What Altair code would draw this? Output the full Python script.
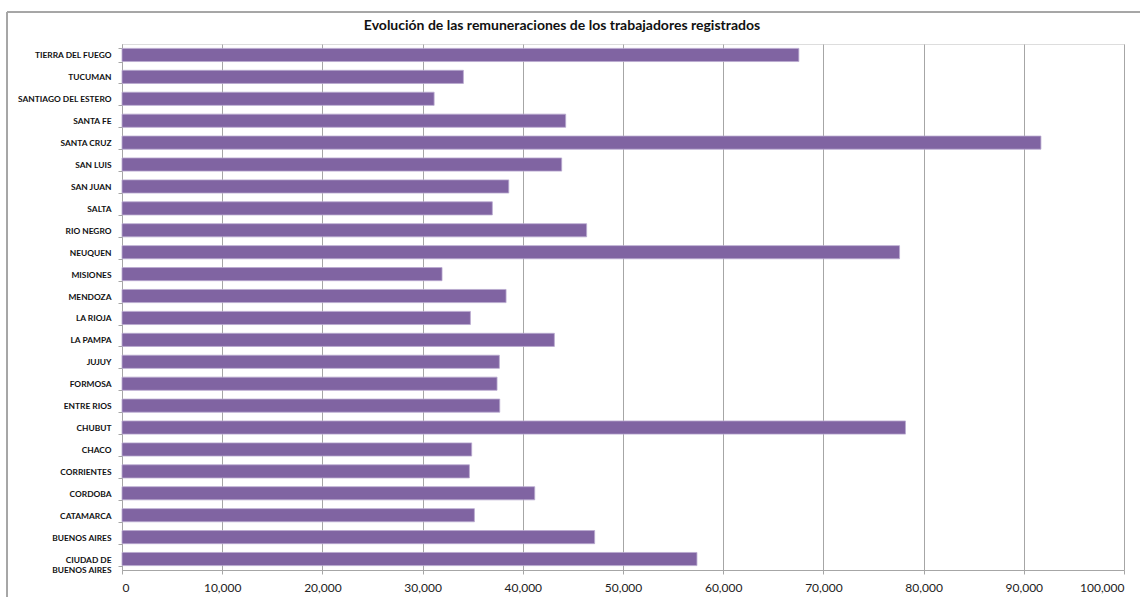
import altair as alt
import pandas as pd

titulo = "Evolución de las remuneraciones de los trabajadores registrados"
provincias = [
    "TIERRA DEL FUEGO", "TUCUMAN", "SANTIAGO DEL ESTERO", "SANTA FE", "SANTA CRUZ",
    "SAN LUIS", "SAN JUAN", "SALTA", "RIO NEGRO", "NEUQUEN", "MISIONES", "MENDOZA",
    "LA RIOJA", "LA PAMPA", "JUJUY", "FORMOSA", "ENTRE RIOS", "CHUBUT", "CHACO",
    "CORRIENTES", "CORDOBA", "CATAMARCA", "BUENOS AIRES", "CIUDAD DE BUENOS AIRES",
]
remuneraciones = [
    67550, 34070, 31150, 44280, 91710,
    43880, 38600, 36960, 46370, 77600, 31940, 38330,
    34770, 43150, 37660, 37430, 37700, 78190, 34900,
    34670, 41190, 35170, 47170, 57380,
]
x_ticks = [0, 10000, 20000, 30000, 40000, 50000, 60000, 70000, 80000, 90000, 100000]

df = pd.DataFrame({"provincia": provincias, "valor": remuneraciones})

bars = alt.Chart(df).mark_bar(
    color="#8064A2", stroke="#b9a9cf", strokeWidth=0.8
).encode(
    x=alt.X(
        "valor:Q",
        scale=alt.Scale(domain=[0, 100000], nice=False, zero=True),
        axis=alt.Axis(
            values=x_ticks, format=",.0f", title=None, grid=True,
            gridColor="#a6a6a6", gridWidth=1, domainColor="#a6a6a6",
            tickColor="#a6a6a6", tickSize=4, labelPadding=8,
            labelFont="Lato", labelFontSize=12, labelColor="#222222",
        ),
    ),
    y=alt.Y(
        "provincia:N",
        sort=provincias,
        scale=alt.Scale(paddingInner=0.4, paddingOuter=0.2),
        axis=alt.Axis(
            title=None, tickBand="extent", tickSize=4, tickColor="#a6a6a6",
            domainColor="#a6a6a6", labelPadding=7, labelFont="Lato",
            labelFontSize=8.4, labelFontWeight="bold", labelColor="#111111",
            labelLimit=200, labelLineHeight=10.5,
            labelExpr="datum.value == 'CIUDAD DE BUENOS AIRES' ? ['CIUDAD DE', 'BUENOS AIRES'] : datum.value",
        ),
    ),
)

frame = alt.Chart(df).mark_rect(
    fill=None, stroke="#a6a6a6", strokeWidth=1
).encode(
    x=alt.value(-115), x2=alt.value(1040),
    y=alt.value(-32), y2=alt.value(580),
)

title_df = pd.DataFrame({"t": [titulo]})
title_mark = alt.Chart(title_df).mark_text(
    font="Lato", fontSize=14, fontWeight="bold", color="#111111",
    align="center", baseline="middle",
).encode(
    text="t:N", x=alt.value(440), y=alt.value(-18),
)

chart = alt.layer(frame, bars, title_mark).properties(
    width=1002,
    height=526,
    padding={"left": 122, "top": 44, "right": 16, "bottom": 27},
    autosize=alt.AutoSizeParams(type="none"),
).configure_view(stroke=None).configure(background="white")

chart.save("out.html", embed_options={"renderer": "svg", "actions": False})
